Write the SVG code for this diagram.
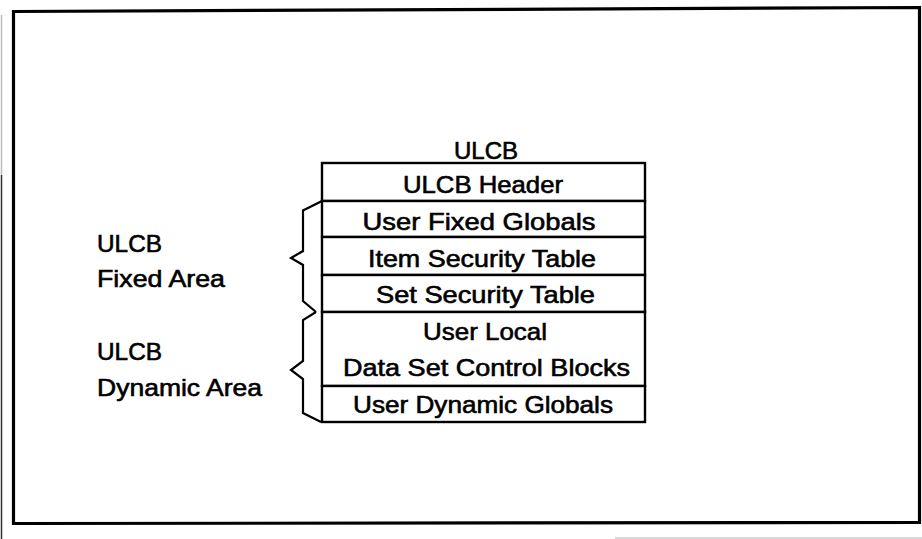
<svg xmlns="http://www.w3.org/2000/svg" width="922" height="539" viewBox="0 0 922 539">
  <style>
    .lbl { font-family: "Liberation Sans", Arial, sans-serif; font-size: 24px; fill: #000; stroke: #000; stroke-width: 0.6; }
    .mid { text-anchor: middle; }
    .cell { fill: #fff; stroke: #000; stroke-width: 2.4; }
    .brace { fill: none; stroke: #000; stroke-width: 2.2; stroke-linejoin: miter; }
    .frame { fill: #fff; stroke: #000; stroke-width: 3.2; }
  </style>

  <!-- page background and outer frame -->
  <rect x="0" y="0" width="922" height="539" fill="#fff"/>
  <line x1="1.5" y1="15" x2="1.5" y2="175" stroke="#bbb" stroke-width="1.5"/>
  <line x1="1.5" y1="175" x2="1.5" y2="539" stroke="#333" stroke-width="1.5"/>
  <polygon class="frame" points="13.5,11.5 919.5,7.5 919.5,522.5 13.5,523.5"/>
  <line x1="615" y1="538" x2="922" y2="538" stroke="#ccc" stroke-width="1.5"/>

  <!-- stack title -->
  <g id="title">
    <text class="lbl mid" x="486" y="159">ULCB</text>
  </g>

  <!-- stack rows -->
  <g id="ulcb-header">
    <rect class="cell" x="322" y="163" width="323" height="38"/>
    <text class="lbl mid" x="483" y="193" textLength="160" lengthAdjust="spacingAndGlyphs">ULCB Header</text>
  </g>
  <g id="user-fixed-globals">
    <rect class="cell" x="322" y="201" width="323" height="36"/>
    <text class="lbl mid" x="479" y="230" textLength="233" lengthAdjust="spacingAndGlyphs">User Fixed Globals</text>
  </g>
  <g id="item-security-table">
    <rect class="cell" x="322" y="237" width="323" height="38"/>
    <text class="lbl mid" x="482" y="267" textLength="228" lengthAdjust="spacingAndGlyphs">Item Security Table</text>
  </g>
  <g id="set-security-table">
    <rect class="cell" x="322" y="275" width="323" height="37"/>
    <text class="lbl mid" x="485.5" y="303" textLength="219" lengthAdjust="spacingAndGlyphs">Set Security Table</text>
  </g>
  <g id="user-local-dscb">
    <rect class="cell" x="322" y="312" width="323" height="74"/>
    <text class="lbl mid" x="485" y="340" textLength="124" lengthAdjust="spacingAndGlyphs">User Local</text>
    <text class="lbl mid" x="486.5" y="376" textLength="287" lengthAdjust="spacingAndGlyphs">Data Set Control Blocks</text>
  </g>
  <g id="user-dynamic-globals">
    <rect class="cell" x="322" y="386" width="323" height="36"/>
    <text class="lbl mid" x="483" y="413" textLength="260" lengthAdjust="spacingAndGlyphs">User Dynamic Globals</text>
  </g>

  <!-- area labels -->
  <g id="fixed-area">
    <text class="lbl" x="97" y="252" textLength="65" lengthAdjust="spacingAndGlyphs">ULCB</text>
    <text class="lbl" x="97" y="287" textLength="128" lengthAdjust="spacingAndGlyphs">Fixed Area</text>
  </g>
  <g id="dynamic-area">
    <text class="lbl" x="97" y="360" textLength="65" lengthAdjust="spacingAndGlyphs">ULCB</text>
    <text class="lbl" x="97" y="396" textLength="165" lengthAdjust="spacingAndGlyphs">Dynamic Area</text>
  </g>

  <!-- braces grouping the rows -->
  <g id="connectors">
    <path class="brace" d="M322,201 L303,210.5 L303,251 L291,258 L303,265 L303,301 L316,312"/>
    <path class="brace" d="M316,312 L303,320 L303,361 L291,370 L303,379 L303,413 L321,422"/>
  </g>
</svg>
